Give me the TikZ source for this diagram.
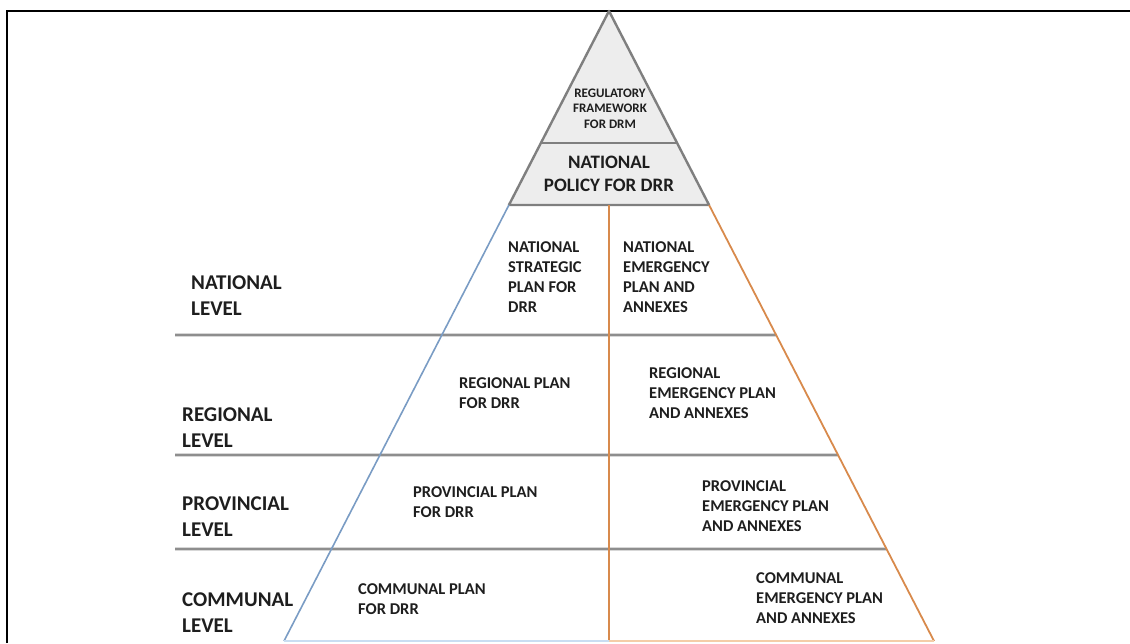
\documentclass[tikz,border=0pt]{standalone}
\usepackage{fontspec}
\setmainfont{Carlito}
\usetikzlibrary{calc}
\definecolor{ink}{HTML}{1E1E1E}
\definecolor{rule}{HTML}{8E8E8E}
\definecolor{capfill}{HTML}{EDEDED}
\definecolor{capline}{HTML}{7F7F7F}
\definecolor{drr}{HTML}{7A9CC4}
\definecolor{drrpale}{HTML}{C9DDF2}
\definecolor{emg}{HTML}{D88A4C}
\definecolor{emgpale}{HTML}{F4CDA8}

\begin{document}
\begin{tikzpicture}[x=1pt,y=-1pt,
  lvl/.style={anchor=west,inner sep=0pt,align=left,text=ink,font=\fontsize{21}{26}\selectfont\bfseries},
  plan/.style={anchor=west,inner sep=0pt,align=left,text=ink,font=\fontsize{16.5}{20}\selectfont\bfseries},
  band/.style={rule,line width=2.8pt}]
\useasboundingbox (0,0) rectangle (1130,643);
% pyramid corners
\coordinate (apex) at (609,11);
\coordinate (bl) at (284,641);
\coordinate (br) at (934,641);
\coordinate (bm) at (609,641);
\coordinate (top) at (609,205);
% points on the two sides
\coordinate (l143) at ($(apex)!0.2095!(bl)$); \coordinate (r143) at ($(apex)!0.2095!(br)$);
\coordinate (l205) at ($(apex)!0.3079!(bl)$); \coordinate (r205) at ($(apex)!0.3079!(br)$);
\coordinate (r335) at ($(apex)!0.5143!(br)$);
\coordinate (r455) at ($(apex)!0.7048!(br)$);
\coordinate (r549) at ($(apex)!0.8540!(br)$);
\coordinate (lv1) at (175,335);
\coordinate (lv2) at (175,455);
\coordinate (lv3) at (175,549);
% frame
\coordinate (fa) at (7,643); \coordinate (fb) at (7,11); \coordinate (fc) at (1130,11);
\draw[black,line width=2.2pt] (fa) -- (fb) -- (fc);
% level rules
\draw[band] (lv1) -- (r335);
\draw[band] (lv2) -- (r455);
\draw[band] (lv3) -- (r549);
% top of the pyramid
\fill[capfill] (apex) -- (l205) -- (r205) -- cycle;
\draw[capline,line width=2.2pt] (l143) -- (r143);
\draw[capline,line width=2.4pt,line join=round] (apex) -- (l205) -- (r205) -- cycle;
% the two columns
\draw[drr,line width=1.6pt] (l205) -- (bl);
\draw[emg,line width=1.8pt] (r205) -- (br);
\draw[emg,line width=1.8pt] (top) -- (bm);
\draw[drrpale,line width=2pt] (bl) -- (bm);
\draw[emgpale,line width=2pt] (bm) -- (br);
% texts in the top
\node[inner sep=0pt,align=center,text=ink,font=\fontsize{13}{15.5}\selectfont\bfseries] (regfw) at (610,108.5) {REGULATORY\\FRAMEWORK\\FOR DRM};
\node[inner sep=0pt,align=center,text=ink,font=\fontsize{19}{23}\selectfont\bfseries] (natpol) at (609,174) {NATIONAL\\POLICY FOR DRR};
% levels
\node[lvl] (natlvl) at (191,296) {NATIONAL\\LEVEL};
\node[lvl] (reglvl) at (182,427.5) {REGIONAL\\LEVEL};
\node[lvl] (provlvl) at (182,516.5) {PROVINCIAL\\LEVEL};
\node[lvl] (comlvl) at (182,612.5) {COMMUNAL\\LEVEL};
% plans
\node[plan] (natdrr) at (508,277) {NATIONAL\\STRATEGIC\\PLAN FOR\\DRR};
\node[plan] (natemg) at (623,277) {NATIONAL\\EMERGENCY\\PLAN AND\\ANNEXES};
\node[plan] (regdrr) at (459,393) {REGIONAL PLAN\\FOR DRR};
\node[plan] (regemg) at (649,393) {REGIONAL\\EMERGENCY PLAN\\AND ANNEXES};
\node[plan] (provdrr) at (413,502) {PROVINCIAL PLAN\\FOR DRR};
\node[plan] (provemg) at (702,506) {PROVINCIAL\\EMERGENCY PLAN\\AND ANNEXES};
\node[plan] (comdrr) at (358,599) {COMMUNAL PLAN\\FOR DRR};
\node[plan] (comemg) at (756,598.5) {COMMUNAL\\EMERGENCY PLAN\\AND ANNEXES};
\end{tikzpicture}
\end{document}
